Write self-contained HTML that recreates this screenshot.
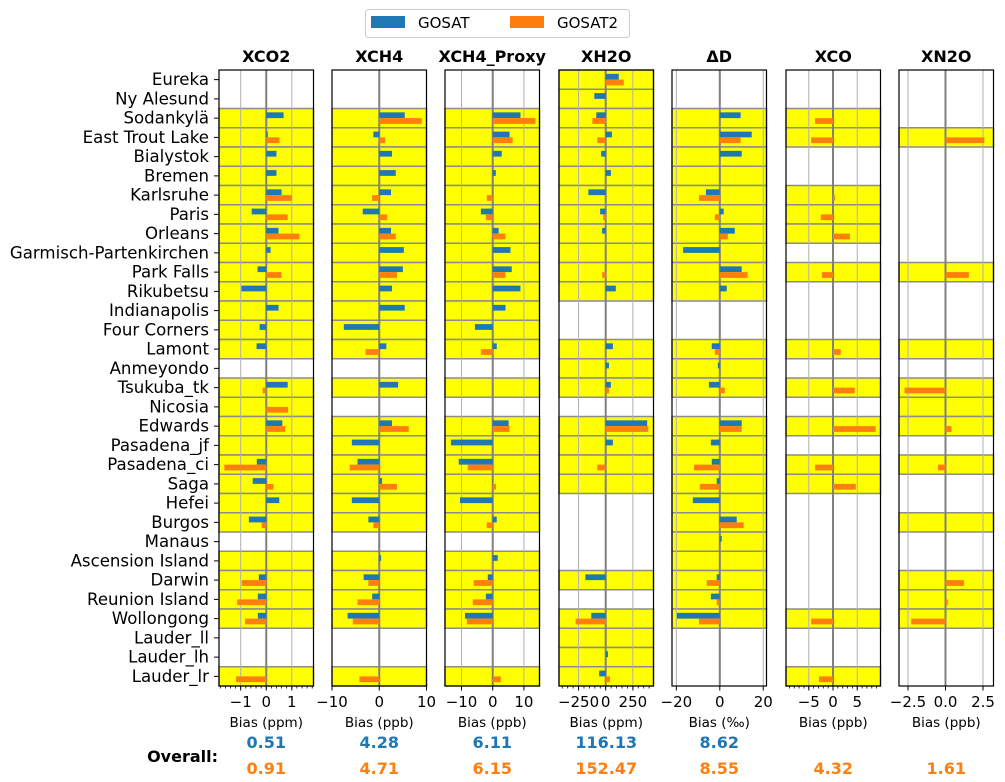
<!DOCTYPE html>
<html><head><meta charset="utf-8"><style>
body{margin:0;background:#fff;}
svg{display:block;font-family:"DejaVu Sans","Liberation Sans",sans-serif;}
</style></head><body>
<svg id="c" width="1005" height="782" xmlns="http://www.w3.org/2000/svg"></svg>
<script>
const stations=["Eureka","Ny Alesund","Sodankylä","East Trout Lake","Bialystok","Bremen","Karlsruhe","Paris","Orleans","Garmisch-Partenkirchen","Park Falls","Rikubetsu","Indianapolis","Four Corners","Lamont","Anmeyondo","Tsukuba_tk","Nicosia","Edwards","Pasadena_jf","Pasadena_ci","Saga","Hefei","Burgos","Manaus","Ascension Island","Darwin","Reunion Island","Wollongong","Lauder_ll","Lauder_lh","Lauder_lr"];
const titles=["XCO2","XCH4","XCH4_Proxy","XH2O","ΔD","XCO","XN2O"];
const xlabels=["Bias (ppm)","Bias (ppb)","Bias (ppb)","Bias (ppm)","Bias (‰)","Bias (ppb)","Bias (ppb)"];
const overallGosat=["0.51","4.28","6.11","116.13","8.62","",""];
const overallGosat2=["0.91","4.71","6.15","152.47","8.55","4.32","1.61"];
const ticks=[[-1,0,1],[-10,0,10],[-10,0,10],[-250,0,250],[-20,0,20],[-5,0,5],[-2.5,0,2.5]];
const tickLabels=[["−1","0","1"],["−10","0","10"],["−10","0","10"],["−250","0","250"],["−20","0","20"],["−5","0","5"],["−2.5","0.0","2.5"]];
const yellowRows=[
[2,3,4,5,6,7,8,9,10,11,12,13,14,16,17,18,19,20,21,22,23,25,26,27,28,31],
[2,3,4,5,6,7,8,9,10,11,12,13,14,16,18,19,20,21,22,23,25,26,27,28,31],
[2,3,4,5,6,7,8,9,10,11,12,13,14,16,18,19,20,21,22,23,25,26,27,28,31],
[0,1,2,3,4,5,6,7,8,9,10,11,14,15,16,18,19,20,21,26,28,29,30,31],
[2,3,4,5,6,7,8,9,10,11,14,15,16,18,19,20,21,22,23,24,25,26,27,28],
[2,3,6,7,8,10,14,16,18,20,21,28,31],
[3,10,14,16,17,18,20,23,26,27,28]];
const N=null;
const gosat=[
[N,N,0.68,0.06,0.4,0.4,0.6,-0.57,0.48,0.17,-0.34,-0.97,0.48,-0.26,-0.38,N,0.84,N,0.63,N,-0.37,-0.53,0.51,-0.68,N,N,-0.29,-0.33,-0.33,N,N,N],
[N,N,5.4,-1.25,2.7,3.5,2.5,-3.5,2.5,5.2,5.0,2.7,5.4,-7.5,1.5,N,4.0,N,2.7,-5.8,-4.6,0.6,-5.8,-2.3,N,0.4,-3.3,-1.5,-6.7,N,N,N],
[N,N,8.9,5.4,2.9,1.0,N,-3.8,1.9,5.7,6.1,8.9,4.1,-5.7,1.3,N,N,N,5.1,-13.4,-10.9,N,-10.5,1.3,N,1.6,-1.6,-2.2,-8.9,N,N,N],
[120,-105,-87,57,-42,48,-160,-51,-33,N,N,93,N,N,66,30,48,N,382,66,N,N,N,N,N,N,-187,N,-133,N,21,-60],
[N,N,9.6,14.7,10.1,N,-6.4,1.8,6.9,-16.9,10.1,3.2,N,N,-3.7,-0.9,-5,N,10.1,-4.1,-3.7,-1.4,-12.4,7.8,0.9,N,-1.4,-4.1,-19.7,N,N,N],
[N,N,N,N,N,N,N,N,N,N,N,N,N,N,N,N,N,N,N,N,N,N,N,N,N,N,N,N,N,N,N,N],
[N,N,N,N,N,N,N,N,N,N,N,N,N,N,N,N,N,N,N,N,N,N,N,N,N,N,N,N,N,N,N,N]];
const gosat2=[
[N,N,N,0.52,N,N,1.0,0.84,1.3,N,0.6,N,N,N,N,N,-0.14,0.86,0.74,N,-1.64,0.28,N,-0.18,N,N,-0.96,-1.14,-0.83,N,N,-1.18],
[N,N,9.0,1.25,N,N,-1.5,1.7,3.5,N,3.75,N,N,N,-2.9,N,N,N,6.25,N,-6.25,3.75,N,-1.25,N,N,-2.3,-4.6,-5.6,N,N,-4.2],
[N,N,13.7,6.4,N,N,-1.9,-2.2,4.1,N,4.1,N,N,N,-3.8,N,N,N,5.4,N,-8.0,1.0,N,-1.9,N,N,-6.1,-6.4,-8.3,N,N,2.6],
[166,N,-123,-78,N,N,N,-24,N,N,-33,N,N,N,N,N,30,N,392,N,-78,N,N,N,N,N,N,N,-277,N,N,39],
[N,N,N,9.6,N,N,-9.6,-2.3,3.7,N,12.8,N,N,N,-2.3,N,2.3,N,10.1,N,-11.9,-9.2,N,11,N,N,-6,-1.4,-9.6,N,N,N],
[N,N,-3.7,-4.5,N,N,0.4,-2.5,3.5,N,-2.3,N,N,N,1.6,N,4.5,N,8.8,N,-3.7,4.7,N,N,N,N,N,N,-4.5,N,N,-2.9],
[N,N,N,2.59,N,N,N,N,N,N,1.56,N,N,N,N,N,-2.73,N,0.4,N,-0.5,N,N,N,N,N,1.24,0.15,-2.29,N,N,N]];
const domains=[[-1.85,1.85],[-10,10],[-15.3,15],[-430,440],[-22,21.5],[-9.7,9.8],[-3.1,3.2]];
const minorStep=[0.2,N,N,50,N,1,N];

const panelX=[219,332,445,559,672,786,899], panelW=94.5, plotTop=70, plotBot=686;
const NS="http://www.w3.org/2000/svg";
const svg=document.getElementById('c');
function mk(tag,attrs,parent){const e=document.createElementNS(NS,tag);for(const k in attrs)e.setAttribute(k,attrs[k]);(parent||svg).appendChild(e);return e;}
const rh=(plotBot-plotTop)/stations.length;
function yRow(i){return plotTop+i*rh;}

stations.forEach((s,i)=>{
  const t=mk('text',{x:209,y:yRow(i)+rh/2+5.5,'text-anchor':'end','font-size':16.6,fill:'#000'});
  t.textContent=s;
  
  
  const tk=mk('line',{x1:214,x2:219,y1:yRow(i)+rh/2,y2:yRow(i)+rh/2,stroke:'#000','stroke-width':1});
  
  
});

titles.forEach((title,p)=>{
  const x0=panelX[p], d0=domains[p][0], d1=domains[p][1];
  const sx=v=>x0+(v-d0)/(d1-d0)*panelW;
  const g=mk('g',{});
  
  
  yellowRows[p].forEach(r=>{
    const rc=mk('rect',{x:x0,y:yRow(r),width:panelW,height:rh,fill:'#ffff00',stroke:'#8c8c8c','stroke-width':1.5},g);
    
    
  });
  ticks[p].forEach(v=>{
    if(v===0)return;
    const gl=mk('line',{x1:sx(v),x2:sx(v),y1:plotTop,y2:plotBot,stroke:'#b0b0b0','stroke-width':1},g);
    
    
  });
  const z=mk('line',{x1:sx(0),x2:sx(0),y1:plotTop,y2:plotBot,stroke:'#808080','stroke-width':2},g);
  
  
  const bw=rh*0.3;
  stations.forEach((s,i)=>{
    const c=yRow(i)+rh/2;
    const a=gosat[p][i], b=gosat2[p][i];
    if(a!==null){const r=mk('rect',{x:Math.min(sx(0),sx(a)),y:c-bw,width:Math.abs(sx(a)-sx(0)),height:bw,fill:'#1f77b4'},g);
      
      }
    if(b!==null){const r=mk('rect',{x:Math.min(sx(0),sx(b)),y:c,width:Math.abs(sx(b)-sx(0)),height:bw,fill:'#ff7f0e'},g);
      
      }
  });
  const fr=mk('rect',{x:x0,y:plotTop,width:panelW,height:plotBot-plotTop,fill:'none',stroke:'#000','stroke-width':1.2},g);
  
  
  if(minorStep[p]){
    const st=minorStep[p];
    for(let v=Math.ceil(d0/st)*st;v<=d1;v+=st){
      const m=mk('line',{x1:sx(v),x2:sx(v),y1:plotBot,y2:plotBot+2.5,stroke:'#000','stroke-width':0.8},g);
      
      
    }
  }
  ticks[p].forEach((v,k)=>{
    const tk=mk('line',{x1:sx(v),x2:sx(v),y1:plotBot,y2:plotBot+4.5,stroke:'#000','stroke-width':1},g);
    
    
    const tl=mk('text',{x:sx(v),y:707,'text-anchor':'middle','font-size':15,fill:'#000'},g);
    tl.textContent=tickLabels[p][k];
    
    
  });
  const cx=x0+panelW/2;
  const tt=mk('text',{x:cx,y:62,'text-anchor':'middle','font-size':16,'font-weight':'bold',fill:'#000'},g);
  tt.textContent=title;
  
  
  const xl=mk('text',{x:cx,y:727,'text-anchor':'middle','font-size':13.5,fill:'#000'},g);
  xl.textContent=xlabels[p];
  
  
  const o1=mk('text',{x:cx,y:748,'text-anchor':'middle','font-size':16,'font-weight':'bold',fill:'#1f77b4'},g);
  o1.textContent=overallGosat[p];
  
  
  const o2=mk('text',{x:cx,y:774,'text-anchor':'middle','font-size':16,'font-weight':'bold',fill:'#ff7f0e'},g);
  o2.textContent=overallGosat2[p];
  
  
});
</script>
<svg style="position:absolute;left:0;top:0" width="1005" height="782" xmlns="http://www.w3.org/2000/svg">
  <g font-family="DejaVu Sans, Liberation Sans, sans-serif">
    <rect x="365.5" y="9.5" width="264" height="28" rx="3" fill="#fff" stroke="#cccccc"/>
    <rect x="371" y="16" width="34" height="12" fill="#1f77b4"/>
    <text x="418" y="28" font-size="15">GOSAT</text>
    <rect x="510" y="16" width="34" height="12" fill="#ff7f0e"/>
    <text x="557" y="28" font-size="15">GOSAT2</text>
  </g>
  <text x="218" y="762" text-anchor="end" font-size="16" font-weight="bold" font-family="DejaVu Sans, Liberation Sans, sans-serif">Overall:</text>
</svg>
</body></html>
